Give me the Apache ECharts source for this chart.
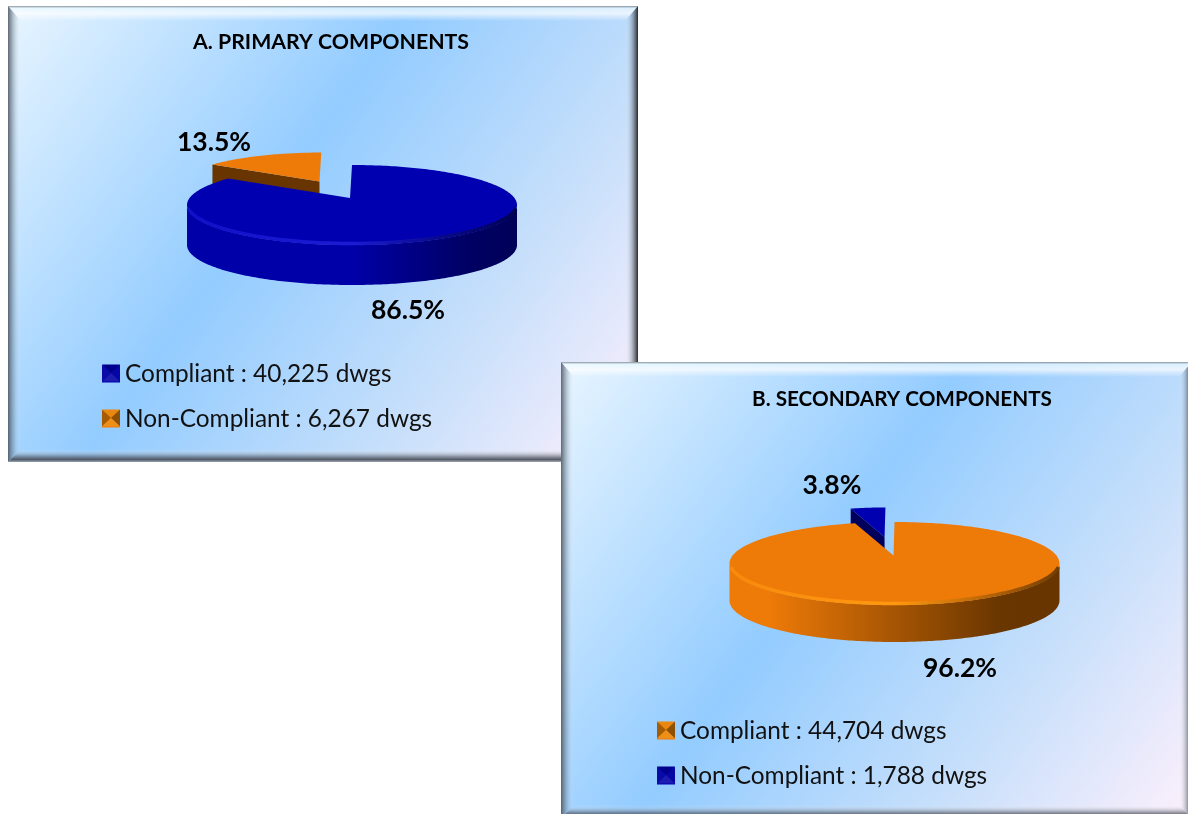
<!DOCTYPE html>
<html><head><meta charset="utf-8">
<style>html,body{margin:0;padding:0;background:#fff;overflow:hidden}#c{width:1188px;height:814px}</style>
<script src="https://cdn.jsdelivr.net/npm/echarts@6/dist/echarts.min.js"></script>
</head><body><div id="c"></div>
<script>
const categories = ['Compliant', 'Non-Compliant'];
const primaryValues = [40225, 6267];
const secondaryValues = [44704, 1788];
const titles = ['A. PRIMARY COMPONENTS', 'B. SECONDARY COMPONENTS'];
const FONT = 'Lato';

const blue = {top:'#0000b0', wall:['#0000a8','#0000a8','#000064','#000058'], wallStops:[.5,.85], rim:['#1010c8','#1c1cd4','#0a0a90','#000050'], cut:'#00005c', icon:['#00008c','#0a0aa8','#0606a4','#1c1cb0']};
const orange = {top:'#ee7a08', wall:['#ee7a08','#ee7a08','#693600','#683500'], wallStops:[.12,.82], rim:['#f88a0c','#ff9810','#c06a08','#703c00'], cut:'#683500', icon:['#e88810','#a65c06','#8e5002','#ee9018']};

const pies = [
  {values:primaryValues, colors:[blue,orange], cx:352, cy:205, apexDx:-2, apexDy:-7, rx:165, ry:40, depth:40,
   labelPos:[[408,310],[214,142]], legend:{left:102, top:359}},
  {values:secondaryValues, colors:[orange,blue], cx:894.5, cy:563.5, apexDx:-1, apexDy:-8, rx:165, ry:41.5, depth:37,
   labelPos:[[960,668],[832,485]], legend:{left:657, top:716}}
];
const EXPLODE = 0.45, FAR_SCALE = 0.88;
const rad = d => d * Math.PI / 180;

function makeRender(p, i) {
  const total = p.values[0] + p.values[1];
  const share = p.values[i] / total;
  const start = i === 0 ? 0 : (p.values[0] / total) * 360;
  const end = start + share * 360;
  const c = p.colors[i];
  const mid = (start + end) / 2;
  const s = i === 0 ? 1 : FAR_SCALE;
  return function (params, api) {
    const v = api.value(0);
    const pct = (v / total * 100).toFixed(1) + '%';
    let ax = p.cx + p.apexDx, ay = p.cy + p.apexDy;
    if (i === 1) { ax += EXPLODE * p.rx * Math.sin(rad(mid)); ay -= EXPLODE * p.ry * Math.cos(rad(mid)); }
    const ox = ax - p.apexDx * s, oy = ay - p.apexDy * s;
    const pt = (d, dz) => [ox + s * p.rx * Math.sin(rad(d)), oy - s * p.ry * Math.cos(rad(d)) + (dz || 0)];
    const kids = [];
    const arc = [];
    for (let d = start; d < end; d += 1) arc.push(pt(d));
    arc.push(pt(end));
    if (i === 1) {
      const tip = pt(start);
      kids.push({type:'polygon', shape:{points:[[ax,ay],tip,[tip[0],tip[1]+p.depth*s],[ax,ay+p.depth*s]]}, style:{fill:c.cut}});
    } else {
      const front = [];
      for (let d = 90; d <= 270; d += 1) front.push(pt(d));
      const lower = front.map(q => [q[0], q[1] + p.depth]).reverse();
      kids.push({type:'polygon', shape:{points:front.concat(lower)},
        style:{fill:new echarts.graphic.LinearGradient(0,0,1,0,[
          {offset:0,color:c.wall[0]},{offset:c.wallStops[0],color:c.wall[1]},{offset:c.wallStops[1],color:c.wall[2]},{offset:1,color:c.wall[3]}])}});
    }
    kids.push({type:'polygon', shape:{points:[[ax,ay]].concat(arc)}, style:{fill:c.top}});
    if (i === 0) {
      const rim = [];
      for (let d = 97; d <= 263; d += 1) { const q = pt(d); rim.push([q[0], q[1] - 1.5]); }
      kids.push({type:'polyline', shape:{points:rim}, style:{fill:null, lineWidth:3.5, lineCap:'butt', stroke:new echarts.graphic.LinearGradient(0,0,1,0,[
        {offset:0,color:c.rim[0]},{offset:.5,color:c.rim[1]},{offset:.75,color:c.rim[2]},{offset:1,color:c.rim[3]}])}});
    }
    kids.push({type:'text', style:{x:p.labelPos[i][0], y:p.labelPos[i][1], text:pct, align:'center', verticalAlign:'middle',
      font:'bold 26.5px ' + FONT, fill:'#000'}});
    return {type:'group', children:kids};
  };
}

const fmt = (cat, v) => cat + ' : ' + v.toLocaleString('en-US') + ' dwgs';
const series = [], legends = [];
pies.forEach(p => {
  const names = categories.map((cat, k) => fmt(cat, p.values[k]));
  [1, 0].forEach(i => series.push({
    type:'custom', coordinateSystem:'none', name:names[i], data:[[p.values[i]]],
    itemStyle:{color:p.colors[i].top}, renderItem:makeRender(p, i), silent:true, animation:false
  }));
  legends.push({orient:'vertical', left:p.legend.left, top:p.legend.top, data:names, icon:'rect', itemWidth:18, itemHeight:17,
    itemGap:15, selectedMode:false, padding:0, textStyle:{fontFamily:FONT, fontSize:24.4, color:'#111', lineHeight:30}});
});

function panel(x, y, w, h) {
  const b = 13, X = x + w, Y = y + h;
  const G = (x0,y0,x1,y1,st) => new echarts.graphic.LinearGradient(x0,y0,x1,y1,st.map(a=>({offset:a[0],color:a[1]})));
  return [
    {type:'rect', shape:{x,y,width:w,height:h}, style:{fill:G(0,0,1,1,[[0,'#e8f5ff'],[.42,'#93ccff'],[.72,'#c6dffb'],[1,'#fdf0fc']])}},
    {type:'polygon', shape:{points:[[x,y],[X,y],[X-b,y+b+2],[x+b,y+b+2]]}, style:{fill:G(0,0,0,1,[[0,'rgba(120,130,140,.85)'],[.15,'rgba(235,250,255,.7)'],[.5,'rgba(255,255,255,.7)'],[1,'rgba(255,255,255,0)']])}},
    {type:'polygon', shape:{points:[[x,y],[x+b,y+b+2],[x+b,Y-b],[x,Y]]}, style:{fill:G(0,0,1,0,[[0,'rgba(70,80,90,.85)'],[.5,'rgba(110,125,140,.3)'],[1,'rgba(255,255,255,0)']])}},
    {type:'polygon', shape:{points:[[X,y],[X-b,y+b+2],[X-b,Y-b],[X,Y]]}, style:{fill:G(0,0,1,0,[[0,'rgba(255,255,255,0)'],[.5,'rgba(100,110,120,.35)'],[1,'rgba(30,30,30,.95)']])}},
    {type:'polygon', shape:{points:[[x,Y],[x+b,Y-b],[X-b,Y-b],[X,Y]]}, style:{fill:G(0,0,0,1,[[0,'rgba(255,255,255,0)'],[.55,'rgba(90,95,105,.55)'],[.8,'rgba(70,75,85,.9)'],[1,'rgba(150,155,165,.85)']])}}
  ];
}
function pyramid(x, y, w, h, col) {
  const tl=[x,y], tr=[x+w,y], bl=[x,y+h], br=[x+w,y+h], m=[x+w/2,y+h/2];
  return [[tl,tr,m,col[0]],[tl,bl,m,col[1]],[tr,br,m,col[2]],[bl,br,m,col[3]]].map(t=>({
    type:'polygon', z:20, shape:{points:t.slice(0,3)}, style:{fill:t[3]}}));
}
const icons = [[102,364.5,blue],[102,409.5,orange],[657,721.5,orange],[657,766.5,blue]]
  .flatMap(a => pyramid(a[0], a[1], 18, 17, a[2].icon));

const chart = echarts.init(document.getElementById('c'), null, {renderer:'canvas', width:1188, height:814});
chart.setOption({
  animation:false,
  backgroundColor:'#fff',
  title:[
    {text:titles[0], left:326, top:27, textAlign:'center', textStyle:{fontFamily:FONT, fontWeight:'bold', fontSize:21.3, color:'#000'}},
    {text:titles[1], left:897, top:384, textAlign:'center', textStyle:{fontFamily:FONT, fontWeight:'bold', fontSize:20.7, color:'#000'}}
  ],
  legend:legends,
  graphic:{elements:panel(8,6,630,456).concat(panel(561,362,631,456), icons)},
  series
});
</script></body></html>
